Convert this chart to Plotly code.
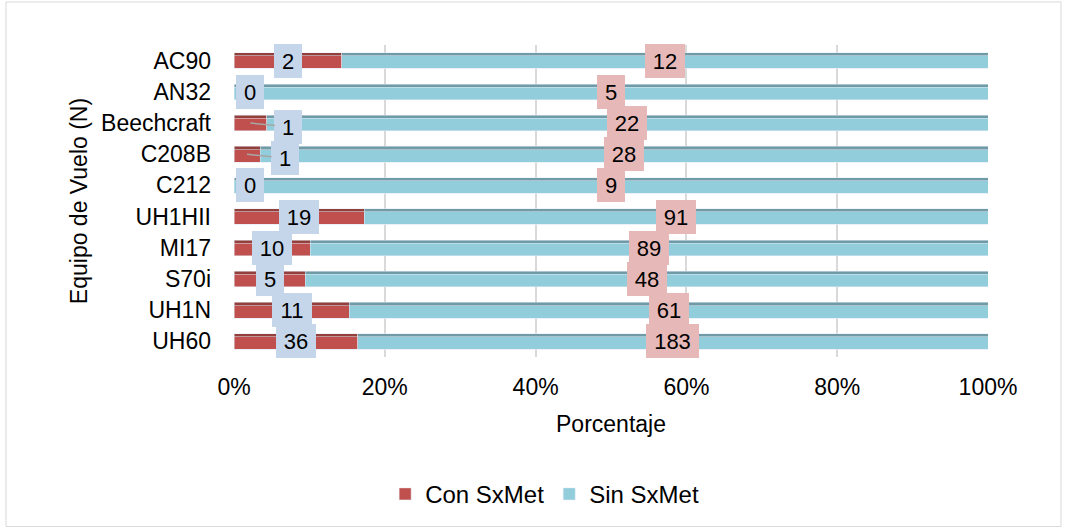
import plotly.graph_objects as go

categories = ["AC90", "AN32", "Beechcraft", "C208B", "C212", "UH1HII", "MI17", "S70i", "UH1N", "UH60"]
con_sxmet = [2, 0, 1, 1, 0, 19, 10, 5, 11, 36]
sin_sxmet = [12, 5, 22, 28, 9, 91, 89, 48, 61, 183]
x_ticks = [0, 20, 40, 60, 80, 100]
x_tick_labels = ["0%", "20%", "40%", "60%", "80%", "100%"]

RED = "#C0504D"
RED_TOP = "#93403D"
BLUE = "#92CDDC"
BLUE_TOP = "#6F9BA6"
FONT = "Liberation Sans, Arial, sans-serif"
FS = 23

fig = go.Figure()
# top faces (darker, full thickness)
fig.add_trace(go.Bar(y=categories, x=con_sxmet, orientation="h", marker_color=RED_TOP,
                     width=0.5, showlegend=False, hoverinfo="skip", yaxis="y"))
fig.add_trace(go.Bar(y=categories, x=sin_sxmet, orientation="h", marker_color=BLUE_TOP,
                     width=0.5, showlegend=False, hoverinfo="skip", yaxis="y"))
# front faces
fig.add_trace(go.Bar(y=categories, x=con_sxmet, orientation="h", marker_color=RED,
                     width=0.4, offset=-0.15, name="Con SxMet", yaxis="y2"))
fig.add_trace(go.Bar(y=categories, x=sin_sxmet, orientation="h", marker_color=BLUE,
                     width=0.4, offset=-0.15, name="Sin SxMet", yaxis="y2"))

annotations = []
lab_font = dict(family=FONT, size=22, color="black")


def box(text, color):
    return dict(text=text, font=lab_font, bgcolor=color, bordercolor=color, borderwidth=1,
                borderpad=4, width=round(12.2 * len(text) + 6), height=24)


for cat, c, s in zip(categories, con_sxmet, sin_sxmet):
    total = c + s
    pc = 100.0 * c / total
    common_c = dict(y=cat, xref="x", yref="y", **box(str(c), "#C6D6EA"))
    if c == 0:
        annotations.append(dict(x=0, showarrow=False, xshift=16, **common_c))
    elif pc < 5:
        annotations.append(dict(x=pc / 2, showarrow=True, arrowhead=0, arrowwidth=1.5,
                                arrowcolor="#A6A6A6", ax=38, ay=4, **common_c))
    else:
        annotations.append(dict(x=pc / 2, showarrow=False, **common_c))
    annotations.append(dict(x=(pc + 100) / 2, y=cat, xref="x", yref="y", showarrow=False,
                            **box(str(s), "#E6B9B8")))

fig.update_layout(
    width=1066, height=529,
    margin=dict(l=234, r=78, t=45, b=172),
    paper_bgcolor="white", plot_bgcolor="white",
    barmode="stack", barnorm="percent",
    font=dict(family=FONT, size=FS, color="black"),
    xaxis=dict(range=[0, 100], tickvals=x_ticks, ticktext=x_tick_labels, showgrid=True,
               gridcolor="#D9D9D9", gridwidth=2, zeroline=False, showline=False,
               ticklabelstandoff=14,
               title=dict(text="Porcentaje", standoff=16, font=dict(size=FS))),
    yaxis=dict(type="category", categoryarray=categories, range=[9.5, -0.5],
               showgrid=False, zeroline=False, showline=False, ticklabelstandoff=22,
               title=dict(text="Equipo de Vuelo (N)", standoff=6, font=dict(size=FS))),
    yaxis2=dict(type="category", categoryarray=categories, range=[9.5, -0.5],
                overlaying="y", visible=False),
    legend=dict(orientation="h", x=0.412, xanchor="center", y=-0.44, yanchor="middle",
                font=dict(size=24), traceorder="normal"),
    annotations=annotations,
    shapes=[dict(type="rect", xref="paper", yref="paper", x0=-0.3024, x1=1.0968,
                 y0=-0.5434, y1=1.138, line=dict(color="#D9D9D9", width=1), layer="below")],
)

fig.write_html("out.html")
